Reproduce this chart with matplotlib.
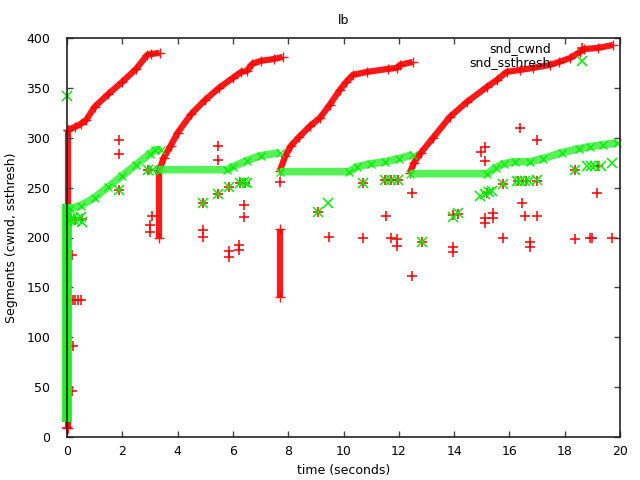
import matplotlib
matplotlib.use('Agg')
import matplotlib.pyplot as plt

# snd_cwnd: dense runs (vertices of each run)
cwnd_v0_x = [0.03, 0.03]
cwnd_v0_y = [9, 308]
cwnd_r1_x = [0.05, 0.3, 0.5, 0.7, 1.0, 1.5, 2.0, 2.5, 2.9, 3.05, 3.35]
cwnd_r1_y = [308, 311, 314, 318, 331, 344, 356, 369, 383, 384, 385]
cwnd_v1_x = [3.33, 3.33]
cwnd_v1_y = [200, 268]
cwnd_r2_x = [3.35, 3.5, 3.75, 4.0, 4.5, 5.0, 5.5, 6.0, 6.3, 6.5, 6.7, 7.0, 7.5, 7.8]
cwnd_r2_y = [268, 280, 292, 305, 324, 338, 350, 360, 366, 367, 374, 377, 379, 381]
cwnd_v2_x = [7.7, 7.7]
cwnd_v2_y = [140, 209]
cwnd_r3_x = [7.7, 7.9, 8.1, 8.4, 8.8, 9.15, 9.5, 9.87, 10.1, 10.34, 10.85, 11.6, 11.93, 12.04, 12.5]
cwnd_r3_y = [267, 282, 292, 301, 312, 320, 333, 348, 356, 363, 366, 369, 370, 373, 376]
cwnd_r4_x = [12.4, 12.55, 12.8, 13.24, 13.85, 14.47, 15.19, 15.55, 15.9, 16.4, 16.85,
             17.47, 17.8, 18.2, 18.55, 18.7, 19.2, 19.75]
cwnd_r4_y = [265, 275, 285, 300, 321, 336, 351, 358, 366, 368, 370,
             373, 376, 380, 386, 389, 390, 393]

# snd_cwnd: scattered samples
cwnd_pts_x = [0.0, 0.18, 0.2, 0.3, 0.4, 0.5, 0.22, 0.18, 0.3, 0.55,
              1.88, 1.88, 1.88, 2.93, 3.07, 3.0, 3.0,
              4.92, 4.92, 4.92, 5.46, 5.46, 5.46, 5.86, 5.86, 5.86, 6.27, 6.44, 6.4, 6.4, 6.22, 6.22,
              7.7, 9.07, 9.48,
              10.7, 10.7, 11.5, 11.7, 11.97, 11.54, 11.72, 11.93, 11.93, 12.48, 12.48, 12.84,
              13.96, 13.96, 13.96, 14.14, 14.97, 15.12, 15.12, 15.12, 15.12, 15.4, 15.4, 15.19, 15.77, 15.77,
              16.38, 16.46, 16.56, 17.0, 17.0, 16.75, 16.75, 16.3, 16.6, 17.0, 18.37, 18.37, 18.9, 19.0,
              19.17, 19.7, 19.2]
cwnd_pts_y = [9, 182.5, 137, 137, 137, 137, 91, 46, 218, 219,
              298, 284, 248, 268, 221.5, 206, 213,
              234.6, 201, 208, 292, 278, 243.6, 251, 180, 186, 255, 255, 232.6, 220.5, 187, 192,
              256, 225.6, 200.5,
              254.6, 199.5, 257.6, 257.6, 257.6, 221.5, 199.5, 191, 198, 244.6, 161.4, 195.5,
              185, 190, 222.5, 224, 285.7, 276.7, 290.7, 215, 220, 220, 225, 244.6, 253.6, 199.5,
              309.8, 234.6, 221.5, 221.5, 297.7, 190, 195, 256.6, 256.6, 256.6, 267.7, 198.5, 199.5, 199.5,
              244.6, 199.5, 272]

# snd_ssthresh: dense runs
ssth_v0_x = [0.0, 0.0]
ssth_v0_y = [15, 234]
ssth_r1_x = [0.1, 0.5, 1.0, 1.5, 2.0, 2.5, 3.0, 3.2, 3.4]
ssth_r1_y = [229, 232, 240, 251, 262, 273, 284, 288, 288]
ssth_r2_x = [3.3, 5.8, 6.0, 6.5, 7.0, 7.7]
ssth_r2_y = [268, 268, 271, 277, 282, 285]
ssth_r3_x = [7.7, 10.2, 10.5, 11.0, 11.5, 12.0, 12.5]
ssth_r3_y = [266, 266, 271, 274, 276, 279, 283]
ssth_r4_x = [12.4, 15.2, 15.5, 15.8, 16.2, 16.75, 17.2, 17.9, 18.5, 18.9, 19.4, 19.9]
ssth_r4_y = [264, 264, 270, 274, 276, 276, 279, 285, 289, 291, 293, 295]

# snd_ssthresh: scattered samples
ssth_pts_x = [0.0, 0.1, 0.2, 0.3, 0.4, 0.5, 0.55,
              1.88, 2.93, 3.1,
              4.92, 5.46, 5.86, 6.27, 6.4, 6.5,
              9.07, 9.44,
              10.7, 11.5, 11.7, 11.97, 12.84,
              13.96, 14.14, 14.94, 15.1, 15.25, 15.37, 15.77,
              16.27, 16.4, 16.55, 16.7, 17.0, 18.37, 18.8, 18.95, 19.1, 19.3, 19.7]
ssth_pts_y = [342, 218, 220, 217, 219, 221, 216,
              248, 268, 268,
              234.6, 243.6, 251, 255, 256, 255,
              225.6, 234.6,
              254.6, 257.6, 257.6, 257.6, 195.5,
              221, 224.5, 242, 244, 246, 247, 253.6,
              256.6, 256.6, 256.6, 256.6, 257.6, 267.7, 271.7, 271.7, 271.7, 272, 274.7]

red = '#ff0000'
green = '#00ee00'

fig = plt.figure(figsize=(6.4, 4.8), dpi=100)
ax = fig.add_axes([67 / 640, 1 - 437 / 480, 553 / 640, 399 / 480])

cwnd_runs = [(cwnd_v0_x, cwnd_v0_y), (cwnd_r1_x, cwnd_r1_y), (cwnd_v1_x, cwnd_v1_y),
             (cwnd_r2_x, cwnd_r2_y), (cwnd_v2_x, cwnd_v2_y), (cwnd_r3_x, cwnd_r3_y),
             (cwnd_r4_x, cwnd_r4_y)]
ssth_runs = [(ssth_r1_x, ssth_r1_y), (ssth_r2_x, ssth_r2_y),
             (ssth_r3_x, ssth_r3_y), (ssth_r4_x, ssth_r4_y)]

for xs, ys in cwnd_runs:
    ax.plot(xs, ys, color=red, lw=4.5, alpha=0.9, marker='+', ms=7, mew=1.0,
            solid_capstyle='butt', clip_on=False, zorder=1.5)
ax.plot(cwnd_pts_x, cwnd_pts_y, ls='none', color=red, marker='+', ms=6.5, mew=1.1,
        clip_on=False, zorder=1.6)

# vertical burst of ssthresh values at t=0 is wider in the original
ax.plot(ssth_v0_x, ssth_v0_y, color='#22ee22', lw=7, solid_capstyle='butt',
        clip_on=False, zorder=1.8)
for xs, ys in ssth_runs:
    ax.plot(xs, ys, color='#44f044', lw=5.5, alpha=0.9, marker='x', ms=6, mew=1.0,
            mec=green, solid_capstyle='butt', clip_on=False, zorder=1.8)
ax.plot(ssth_pts_x, ssth_pts_y, ls='none', color=green, marker='x', ms=6.5, mew=1.1,
        clip_on=False, zorder=1.9)

# key samples
h1, = ax.plot([], [], ls='none', color=red, marker='+', ms=6.5, mew=1.1)
h2, = ax.plot([], [], ls='none', color=green, marker='x', ms=6.5, mew=1.1)
leg = ax.legend([h1, h2], ['snd_cwnd', 'snd_ssthresh'], loc='upper right',
                bbox_to_anchor=(0.943, 0.99), frameon=False, markerfirst=False,
                handlelength=1.0, handletextpad=2.0, labelspacing=0.05,
                borderpad=0, borderaxespad=0, fontsize=9)

ax.set_xlim(0, 20)
ax.set_ylim(0, 400)
ax.set_xticks(range(0, 21, 2))
ax.set_yticks(range(0, 401, 50))
ax.tick_params(direction='in', top=True, right=True, length=4, width=1,
               labelsize=9, color='#444444')
ax.tick_params(axis='x', pad=6)
ax.tick_params(axis='y', pad=12)
for s in ax.spines.values():
    s.set_color('#222222')
    s.set_linewidth(1.2)
    s.set_zorder(3)

ax.set_title('lb', fontsize=9, pad=10)
ax.set_xlabel('time (seconds)', fontsize=9, labelpad=4)
ax.set_ylabel('Segments (cwnd, ssthresh)', fontsize=9, labelpad=6)

fig.savefig('out.png', dpi=100)
